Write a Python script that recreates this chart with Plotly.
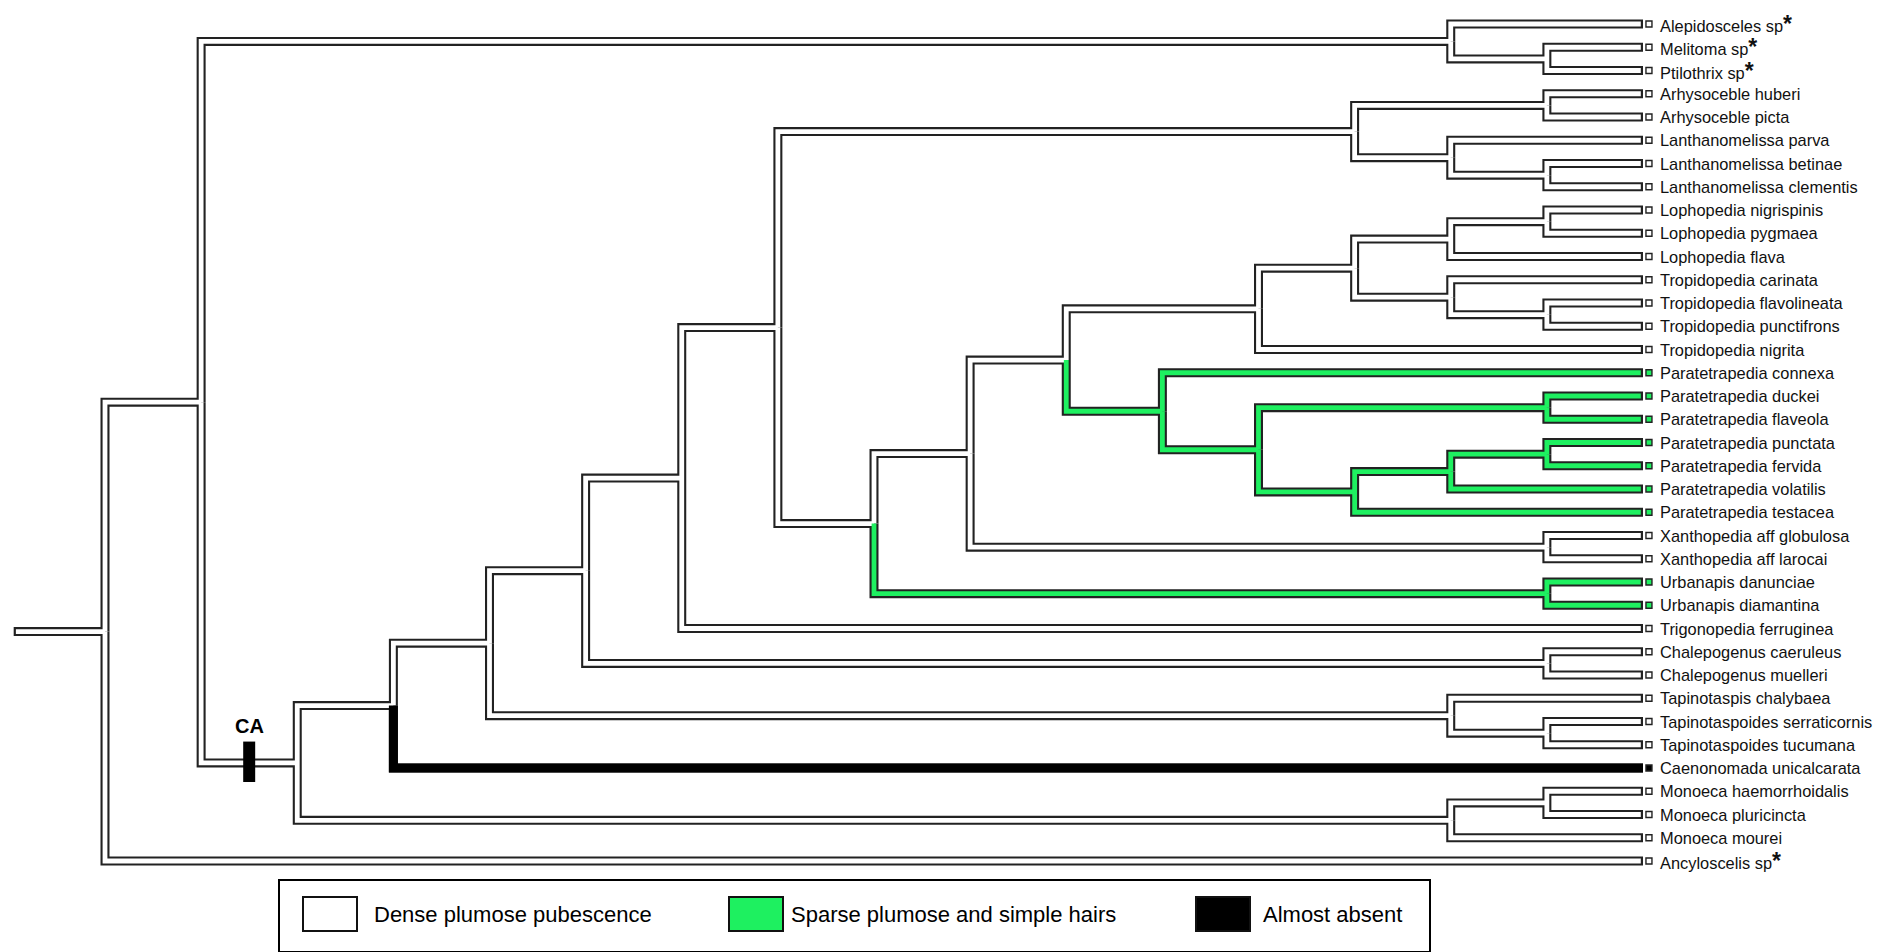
import plotly.graph_objects as go

# Terminal taxa, top to bottom
taxa = [
    "Alepidosceles sp", "Melitoma sp", "Ptilothrix sp",
    "Arhysoceble huberi", "Arhysoceble picta",
    "Lanthanomelissa parva", "Lanthanomelissa betinae", "Lanthanomelissa clementis",
    "Lophopedia nigrispinis", "Lophopedia pygmaea", "Lophopedia flava",
    "Tropidopedia carinata", "Tropidopedia flavolineata", "Tropidopedia punctifrons",
    "Tropidopedia nigrita",
    "Paratetrapedia connexa", "Paratetrapedia duckei", "Paratetrapedia flaveola",
    "Paratetrapedia punctata", "Paratetrapedia fervida", "Paratetrapedia volatilis",
    "Paratetrapedia testacea",
    "Xanthopedia aff globulosa", "Xanthopedia aff larocai",
    "Urbanapis danunciae", "Urbanapis diamantina",
    "Trigonopedia ferruginea",
    "Chalepogenus caeruleus", "Chalepogenus muelleri",
    "Tapinotaspis chalybaea", "Tapinotaspoides serraticornis", "Tapinotaspoides tucumana",
    "Caenonomada unicalcarata",
    "Monoeca haemorrhoidalis", "Monoeca pluricincta", "Monoeca mourei",
    "Ancyloscelis sp",
]

# Taxa marked with an asterisk
starred = ["Alepidosceles sp", "Melitoma sp", "Ptilothrix sp", "Ancyloscelis sp"]

# Pubescence state of each taxon: 0 dense plumose, 1 sparse plumose + simple, 2 almost absent
states = [0] * 15 + [1] * 7 + [0, 0] + [1, 1] + [0] * 6 + [2] + [0] * 4

# Tree topology (leaf indices nested as binary clades)
lopho_tropido = ((((8, 9), 10), (11, (12, 13))), 14)
paratetrapedia = (15, ((16, 17), (((18, 19), 20), 21)))
node10 = (lopho_tropido, paratetrapedia)
node9 = (node10, (22, 23))
node8 = (node9, (24, 25))
node7 = (((3, 4), (5, (6, 7))), node8)
node6 = (node7, 26)
node5 = (node6, (27, 28))
node4 = (node5, (29, (30, 31)))
node3 = (node4, 32)
ca_node = (node3, ((33, 34), 35))
node1 = ((0, (1, 2)), ca_node)
tree = (node1, 36)

state_colors = {0: "#ffffff", 1: "#1ef060", 2: "#000000"}
legend_labels = ["Dense plumose pubescence", "Sparse plumose and simple hairs", "Almost absent"]
OUTLINE = "#222222"
FONT = "Liberation Sans, Arial, sans-serif"


def height(n):
    if isinstance(n, int):
        return 0
    return 1 + max(height(c) for c in n)


H = height(tree)


def leaves(n):
    if isinstance(n, int):
        return [n]
    return [l for c in n for l in leaves(c)]


def node_state(n):
    s = {states[i] for i in leaves(n)}
    return s.pop() if len(s) == 1 else 0


def node_x(n):
    return H - height(n)


def node_y(n):
    if isinstance(n, int):
        return n
    return sum(node_y(c) for c in n) / len(n)


# Collect elbow branches: (parent x, parent y, child x, child y, state, is_leaf)
branches = []


def walk(n):
    if isinstance(n, int):
        return
    px, py = node_x(n), node_y(n)
    for c in n:
        branches.append((px, py, node_x(c), node_y(c), node_state(c), isinstance(c, int)))
        walk(c)


walk(tree)

# pixel <-> axis calibration
PX_PER_COL = 96.125
PX_PER_ROW = 23.25
cap = 2.2 / PX_PER_COL  # closed tube tip at each leaf

fig = go.Figure()

# root stem
root_x, root_y = node_x(tree), node_y(tree)
stem_start = root_x - 0.95

# outline layer
ox, oy = [stem_start, root_x, None], [root_y, root_y, None]
for px, py, cx, cy, st, leaf in branches:
    ox += [px, px, cx, None]
    oy += [py, cy, cy, None]
fig.add_trace(go.Scatter(x=ox, y=oy, mode="lines", line=dict(color=OUTLINE, width=9),
                         hoverinfo="skip", showlegend=False))

# fill layers, one per state
for st in (0, 1, 2):
    fx, fy = [], []
    if st == 0:
        fx += [stem_start + cap, root_x, None]
        fy += [root_y, root_y, None]
    for px, py, cx, cy, s, leaf in branches:
        if s != st:
            continue
        fx += [px, px, cx - (cap if (leaf and st != 2) else 0), None]
        fy += [py, cy, cy, None]
    fig.add_trace(go.Scatter(x=fx, y=fy, mode="lines",
                             line=dict(color=state_colors[st], width=4.8 if st != 2 else 9),
                             hoverinfo="skip", showlegend=False))

# leaf markers
leaf_x = [H + 0.062] * len(taxa)
fig.add_trace(go.Scatter(
    x=leaf_x, y=list(range(len(taxa))), mode="markers",
    marker=dict(symbol="square", size=6, color=[state_colors[s] for s in states],
                line=dict(color=OUTLINE, width=1.4)),
    hoverinfo="skip", showlegend=False))

# taxon labels
for i, name in enumerate(taxa):
    txt = name
    if name in starred:
        txt = name + '<span style="font-size:23px"><b>*</b></span>'
    fig.add_annotation(x=H, y=i, text=txt, showarrow=False, xanchor="left", yanchor="middle",
                       xshift=15, font=dict(family=FONT, size=16.4, color="#111111"))

# CA apomorphy bar on the branch leading to the CA clade
ca_x = (node_x(node1) + node_x(ca_node)) / 2
ca_y = node_y(ca_node)
bw = 6 / PX_PER_COL
fig.add_shape(type="rect", x0=ca_x - bw, x1=ca_x + bw, y0=ca_y - 0.92, y1=ca_y + 0.82,
              fillcolor="#000000", line=dict(width=0), layer="above")
fig.add_annotation(x=ca_x, y=ca_y - 0.92, text="<b>CA</b>", showarrow=False, yanchor="bottom",
                   yshift=3, font=dict(family=FONT, size=20, color="#000000"))

# legend box
W, Hh = 1881, 952
def px_x(v):
    return v / W
def px_y(v):
    return 1 - v / Hh

fig.add_shape(type="rect", xref="paper", yref="paper", x0=px_x(279), x1=px_x(1430),
              y0=px_y(952), y1=px_y(880), line=dict(color="#000000", width=2),
              fillcolor="rgba(0,0,0,0)")
sw_left = [303, 729, 1196]
txt_left = [372, 789, 1261]
for k in range(3):
    fig.add_shape(type="rect", xref="paper", yref="paper", x0=px_x(sw_left[k]),
                  x1=px_x(sw_left[k] + 54), y0=px_y(931), y1=px_y(897),
                  fillcolor=state_colors[k], line=dict(color="#111111", width=2))
    fig.add_annotation(xref="paper", yref="paper", x=px_x(txt_left[k]), y=px_y(914),
                       text=legend_labels[k], showarrow=False, xanchor="left", yanchor="middle",
                       font=dict(family=FONT, size=22, color="#000000"))

fig.update_layout(
    width=W, height=Hh, margin=dict(l=0, r=0, t=0, b=0),
    plot_bgcolor="#ffffff", paper_bgcolor="#ffffff",
    xaxis=dict(range=[-105 / PX_PER_COL, (W - 105) / PX_PER_COL], visible=False, fixedrange=True),
    yaxis=dict(range=[(Hh - 24) / PX_PER_ROW, -24 / PX_PER_ROW], visible=False, fixedrange=True),
)

fig.write_html("out.html")
